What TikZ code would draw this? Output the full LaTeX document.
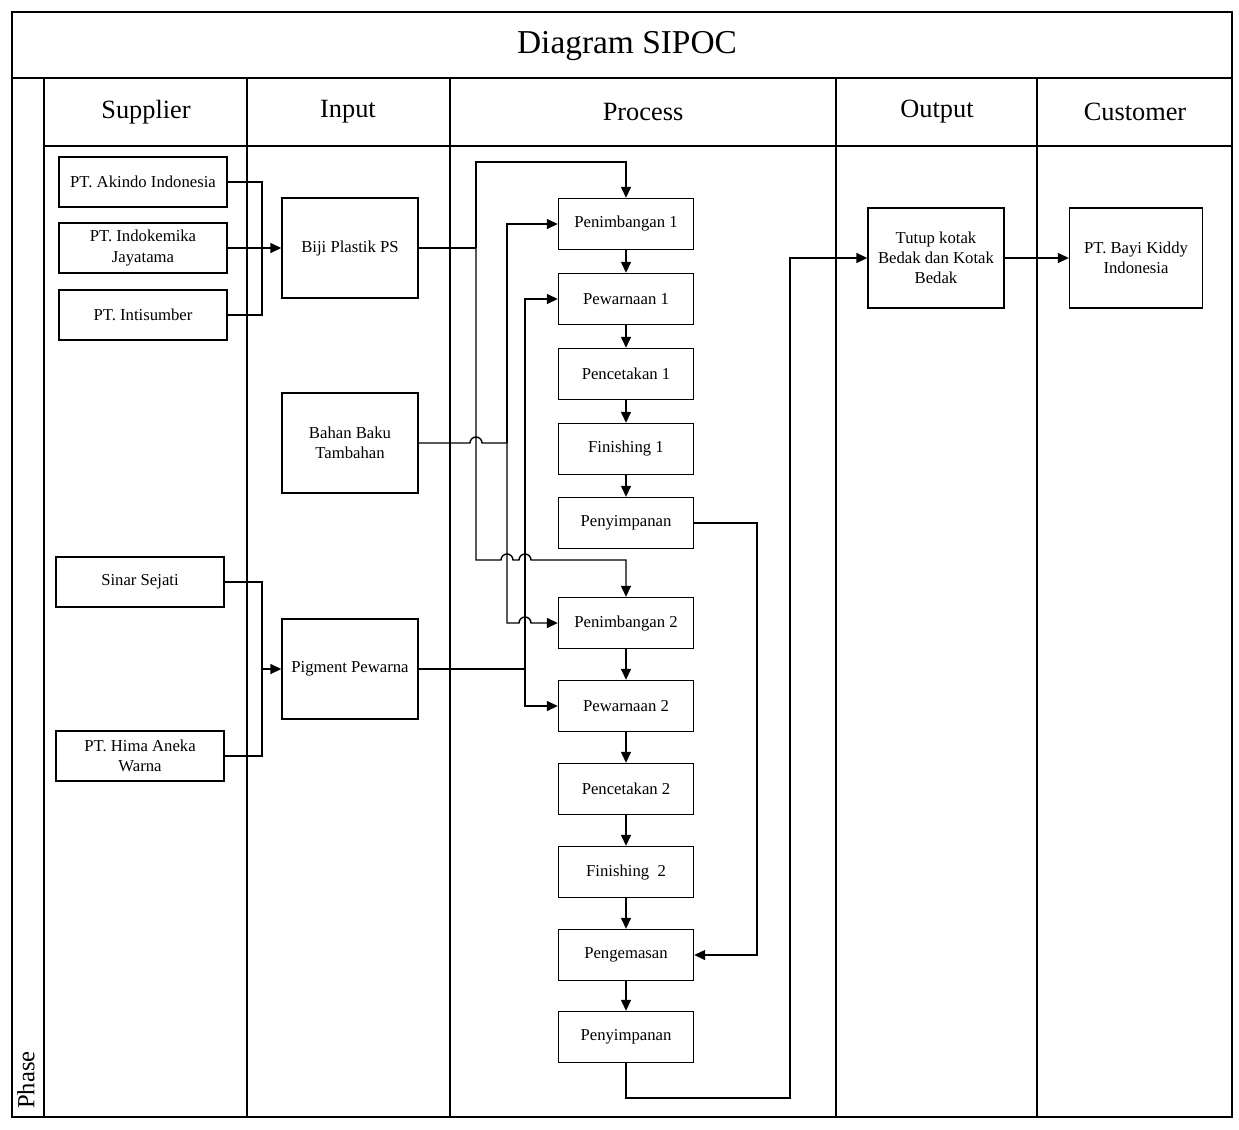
\documentclass[tikz,border=0pt]{standalone}
\usepackage{fontspec}
\setmainfont{Liberation Serif}
\usepackage{tikz}
\usetikzlibrary{arrows.meta,calc}

\begin{document}
\begin{tikzpicture}[x=0.02cm, y=-0.02cm, line width=0.8pt,
  >={Triangle[length=2.2mm,width=2mm]},
  box/.style={draw, align=center, font=\fontsize{9.5}{11.5}\selectfont},
  sbox/.style={box, minimum width=3.36cm, minimum height=1cm},
  ibox/.style={box, minimum width=2.72cm, minimum height=2cm},
  pbox/.style={box, minimum width=2.7cm, minimum height=1.02cm},
  head/.style={font=\fontsize{15}{18}\selectfont}]
\useasboundingbox (0,0) rectangle (1239,1129);
\fill[white] (0,0) rectangle (1239,1129);

% Frame and lanes
\draw (12,12) rectangle (1232,1117);
\draw (12,78) -- (1232,78);
\draw (44,146) -- (1232,146);
\foreach \x in {44,247,450,836,1037} \draw (\x,78) -- (\x,1117);

\node[font=\fontsize{19}{22}\selectfont] (title) at (627,46) {Diagram SIPOC};
\node[head] (hsup) at (146,112) {Supplier};
\node[head] (hin) at (348,112) {Input};
\node[head] (hpro) at (643,112) {Process};
\node[head] (hout) at (937,112) {Output};
\node[head] (hcus) at (1135,112) {Customer};
\node[rotate=90, font=\fontsize{14}{16}\selectfont] (phase) at (26,1080) {Phase};

% Supplier
\node[sbox] (akindo) at (143,182) {PT. Akindo Indonesia};
\node[sbox] (indo) at (143,248) {PT. Indokemika\\Jayatama};
\node[sbox] (inti) at (143,315) {PT. Intisumber};
\node[sbox] (sinar) at (140,582) {Sinar Sejati};
\node[sbox] (hima) at (140,756) {PT. Hima Aneka\\Warna};

% Input
\node[ibox] (biji) at (350,248) {Biji Plastik PS};
\node[ibox] (bahan) at (350,443) {Bahan Baku\\Tambahan};
\node[ibox] (pigmen) at (350,669) {Pigment Pewarna};

% Process
\node[pbox] (p1) at (626,224) {Penimbangan 1};
\node[pbox] (w1) at (626,299) {Pewarnaan 1};
\node[pbox] (c1) at (626,374) {Pencetakan 1};
\node[pbox] (f1) at (626,449) {Finishing 1};
\node[pbox] (s1) at (626,523) {Penyimpanan};
\node[pbox] (p2) at (626,623) {Penimbangan 2};
\node[pbox] (w2) at (626,706) {Pewarnaan 2};
\node[pbox] (c2) at (626,789) {Pencetakan 2};
\node[pbox] (f2) at (626,872) {Finishing~ 2};
\node[pbox] (k2) at (626,955) {Pengemasan};
\node[pbox] (s2) at (626,1037) {Penyimpanan};

% Output and customer
\node[ibox] (tutup) at (936,258) {Tutup kotak\\Bedak dan Kotak\\Bedak};
\node[ibox, minimum width=2.66cm] (bayi) at (1136,258) {PT. Bayi Kiddy\\Indonesia};

% Bus lines
\coordinate (busS) at (262,0);
\coordinate (busA) at (476,162);
\coordinate (jmpA) at (476,560);
\coordinate (busB) at (507,0);
\coordinate (busC) at (525,0);
\coordinate (loopR) at (757,0);
\coordinate (retB) at (790,1098);

% Supplier to input
\draw (akindo.east) -| (busS |- inti.east) -- (inti.east);
\draw[->] (indo.east) -- (biji.west);
\draw (sinar.east) -| (busS |- hima.east) -- (hima.east);
\draw[->] (busS |- pigmen.west) -- (pigmen.west);

% Input to process
\draw (biji.east) -- (busA |- biji.east);
\draw[->] (busA |- biji.east) -- (busA) -| (p1.north);
\draw[->] (busA |- biji.east) -- (jmpA)
  -- ($(busB |- jmpA)+(-6,0)$) arc[start angle=180, end angle=0, radius=1.2mm]
  -- ($(busC |- jmpA)+(-6,0)$) arc[start angle=180, end angle=0, radius=1.2mm]
  -| (p2.north);
\draw (bahan.east) -- ($(busA |- bahan.east)+(-6,0)$)
  arc[start angle=180, end angle=0, radius=1.2mm] -- (busB |- bahan.east);
\draw[->] (busB |- bahan.east) |- (p1.west);
\draw[->] (busB |- bahan.east) |- ($(busC |- p2.west)+(-6,0)$)
  arc[start angle=180, end angle=0, radius=1.2mm] -- (p2.west);
\draw (pigmen.east) -- (busC |- pigmen.east);
\draw[->] (busC |- pigmen.east) |- (w1.west);
\draw[->] (busC |- pigmen.east) |- (w2.west);

% Process chain
\draw[->] (p1) -- (w1);
\draw[->] (w1) -- (c1);
\draw[->] (c1) -- (f1);
\draw[->] (f1) -- (s1);
\draw[->] (p2) -- (w2);
\draw[->] (w2) -- (c2);
\draw[->] (c2) -- (f2);
\draw[->] (f2) -- (k2);
\draw[->] (k2) -- (s2);
\draw[->] (s1.east) -| (loopR |- k2.east) -- (k2.east);

% Output
\draw[->] (s2.south) |- (retB) |- (tutup.west);
\draw[->] (tutup.east) -- (bayi.west);

\end{tikzpicture}
\end{document}
